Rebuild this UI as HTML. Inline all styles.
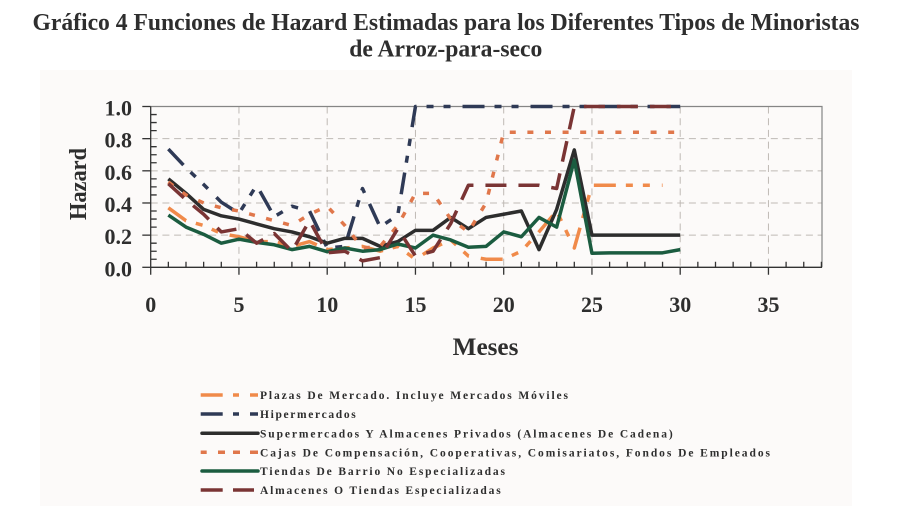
<!DOCTYPE html>
<html><head><meta charset="utf-8"><style>
html,body{margin:0;padding:0;background:#fff;}
svg{display:block;}
text{font-family:"Liberation Serif",serif;font-weight:bold;fill:#2e2e2e;}
</style></head><body>
<svg width="899" height="516" viewBox="0 0 899 516" xmlns="http://www.w3.org/2000/svg">
<rect x="0" y="0" width="899" height="516" fill="#ffffff"/>
<text x="32.5" y="30" font-size="24" textLength="827" lengthAdjust="spacingAndGlyphs">Gráfico 4 Funciones de Hazard Estimadas para los Diferentes Tipos de Minoristas</text>
<text x="349.3" y="56.7" font-size="24" textLength="193" lengthAdjust="spacingAndGlyphs">de Arroz-para-seco</text>
<rect x="40" y="70" width="812" height="436" fill="#fcfaf9"/>

<!-- grid -->
<g stroke="#bfbab5" stroke-width="1" stroke-dasharray="7 4.7" fill="none">
<line x1="150.7" y1="138.66" x2="822" y2="138.66"/>
<line x1="150.7" y1="170.82" x2="822" y2="170.82"/>
<line x1="150.7" y1="202.98" x2="822" y2="202.98"/>
<line x1="150.7" y1="235.14" x2="822" y2="235.14"/>
<line x1="238.95" y1="106.5" x2="238.95" y2="267.3"/>
<line x1="327.2" y1="106.5" x2="327.2" y2="267.3"/>
<line x1="415.45" y1="106.5" x2="415.45" y2="267.3"/>
<line x1="503.7" y1="106.5" x2="503.7" y2="267.3"/>
<line x1="591.95" y1="106.5" x2="591.95" y2="267.3"/>
<line x1="680.2" y1="106.5" x2="680.2" y2="267.3"/>
<line x1="768.45" y1="106.5" x2="768.45" y2="267.3"/>
</g>
<!-- border -->
<polyline points="150.7,106.5 822,106.5 822,267.3" fill="none" stroke="#858585" stroke-width="1.2"/>

<!-- axes -->
<g stroke="#333" stroke-width="1.3" fill="none">
<line x1="150.7" y1="106.5" x2="150.7" y2="267.3"/>
<line x1="150.7" y1="267.3" x2="822" y2="267.3"/>
<!-- y major ticks -->
<line x1="142.3" y1="106.5" x2="150.7" y2="106.5"/>
<line x1="142.3" y1="138.66" x2="150.7" y2="138.66"/>
<line x1="142.3" y1="170.82" x2="150.7" y2="170.82"/>
<line x1="142.3" y1="202.98" x2="150.7" y2="202.98"/>
<line x1="142.3" y1="235.14" x2="150.7" y2="235.14"/>
<line x1="142.3" y1="267.3" x2="150.7" y2="267.3"/>
<!-- y minor ticks -->
<path d="M150.7 114.54h6M150.7 122.58h6M150.7 130.62h6M150.7 146.7h6M150.7 154.74h6M150.7 162.78h6M150.7 178.86h6M150.7 186.9h6M150.7 194.94h6M150.7 211.02h6M150.7 219.06h6M150.7 227.1h6M150.7 243.18h6M150.7 251.22h6M150.7 259.26h6"/>
<!-- x major ticks -->
<path d="M150.7 267.3v7.5M238.95 267.3v7.5M327.2 267.3v7.5M415.45 267.3v7.5M503.7 267.3v7.5M591.95 267.3v7.5M680.2 267.3v7.5M768.45 267.3v7.5"/>
<!-- x minor ticks -->
<path d="M168.35 267.3v-5.5M186 267.3v-5.5M203.65 267.3v-5.5M221.3 267.3v-5.5M256.6 267.3v-5.5M274.25 267.3v-5.5M291.9 267.3v-5.5M309.55 267.3v-5.5M344.85 267.3v-5.5M362.5 267.3v-5.5M380.15 267.3v-5.5M397.8 267.3v-5.5M433.1 267.3v-5.5M450.75 267.3v-5.5M468.4 267.3v-5.5M486.05 267.3v-5.5M521.35 267.3v-5.5M539 267.3v-5.5M556.65 267.3v-5.5M574.3 267.3v-5.5M609.6 267.3v-5.5M627.25 267.3v-5.5M644.9 267.3v-5.5M662.55 267.3v-5.5M697.85 267.3v-5.5M715.5 267.3v-5.5M733.15 267.3v-5.5M750.8 267.3v-5.5M786.1 267.3v-5.5M803.75 267.3v-5.5M821.4 267.3v-5.5"/>
</g>

<!-- y labels -->
<g font-size="22" text-anchor="end">
<text x="132" y="115.5">1.0</text>
<text x="132" y="147.7">0.8</text>
<text x="132" y="179.8">0.6</text>
<text x="132" y="212">0.4</text>
<text x="132" y="244.1">0.2</text>
<text x="132" y="276.3">0.0</text>
</g>
<!-- x labels -->
<g font-size="22" text-anchor="middle">
<text x="150.7" y="312">0</text>
<text x="238.95" y="312">5</text>
<text x="327.2" y="312">10</text>
<text x="415.45" y="312">15</text>
<text x="503.7" y="312">20</text>
<text x="591.95" y="312">25</text>
<text x="680.2" y="312">30</text>
<text x="768.45" y="312">35</text>
</g>
<text x="452.7" y="355" font-size="25" textLength="65.7" lengthAdjust="spacingAndGlyphs">Meses</text>
<text transform="translate(86,184) rotate(-90)" x="0" y="0" font-size="24" text-anchor="middle" textLength="72" lengthAdjust="spacingAndGlyphs">Hazard</text>

<!-- series -->
<g fill="none" stroke-width="3.5" stroke-linejoin="round">
<!-- Plazas -->
<polyline stroke="#f08a4a" stroke-dasharray="22 10 7 10 7 12" points="168.35,207.8 186,220.67 203.65,225.49 221.3,233.53 238.95,236.75 256.6,241.57 274.25,241.57 291.9,246.4 309.55,241.57 327.2,249.6 344.85,248 362.5,246.4 380.15,251.2 397.8,246.4 415.45,259.26 433.1,248 450.75,239.96 468.4,256.04 486.05,259.26 503.7,259.26 521.35,251.2 539,231.92 556.65,211.02 574.3,248 591.95,185.29 662.55,185.29"/>
<!-- Hiper -->
<polyline stroke="#2f3a56" stroke-dasharray="22 10 7 10 7 12" points="168.35,149.11 186,167.8 203.65,184.49 221.3,202.18 238.95,213.43 256.6,185.29 274.25,216.65 291.9,206.2 309.55,211.02 327.2,248 344.85,246.4 362.5,188.51 380.15,227.1 397.8,215.04 415.45,106.5 680.2,106.5"/>
<!-- Super -->
<polyline stroke="#2d2d2d" points="168.35,178.86 186,193.33 203.65,209.41 221.3,215.84 238.95,219.06 256.6,223.88 274.25,228.71 291.9,231.92 309.55,236.75 327.2,243.18 344.85,238.36 362.5,238.36 380.15,246.4 397.8,241.57 415.45,230.32 433.1,230.32 450.75,217.45 468.4,228.71 486.05,217.45 503.7,214.24 521.35,211.02 539,249.61 556.65,209.41 574.3,149.92 591.95,235.14 680.2,235.14"/>
<!-- Cajas -->
<polyline stroke="#e0774b" stroke-dasharray="6 11.6" points="168.35,182.08 186,194.94 203.65,202.98 221.3,207.8 238.95,211.02 256.6,215.84 274.25,220.67 291.9,225.49 309.55,214.24 327.2,206.2 344.85,225.49 362.5,248 380.15,246.4 397.8,225.49 415.45,193.33 433.1,193.33 450.75,219.06 468.4,231.92 486.05,203 503.7,132.23 680.2,132.23"/>
<!-- Tiendas -->
<polyline stroke="#1b5c40" points="168.35,215.04 186,227.1 203.65,234.34 221.3,243.18 238.95,239.16 256.6,242.38 274.25,244.79 291.9,249.61 309.55,246.4 327.2,251.7 344.85,248 362.5,251.2 380.15,249.6 397.8,244 415.45,248 433.1,235.14 450.75,239.96 468.4,247.2 486.05,246.4 503.7,231.92 521.35,236.75 539,217.45 556.65,227.1 574.3,160.05 591.95,253.31 609.6,252.83 662.55,252.83 680.2,249.61"/>
<!-- Almacenes -->
<polyline stroke="#7a3434" stroke-dasharray="21 12" points="168.35,183.68 186,199.76 203.65,214.24 221.3,231.92 238.95,228.71 256.6,243.18 274.25,233.53 291.9,251.2 309.55,220.67 327.2,252.83 344.85,251.2 362.5,260.87 380.15,257.65 397.8,228.71 415.45,256.04 433.1,251.2 450.75,223.5 468.4,185.29 539,185.29 556.65,188.51 574.3,106.5 680.2,106.5"/>
</g>

<!-- legend -->
<g stroke-width="3.5" fill="none">
<path stroke="#f08a4a" d="M200.7 395h22M233 395h6M250 395h8"/>
<path stroke="#2f3a56" d="M200.7 414h22M233 414h6M250 414h8"/>
<path stroke="#2d2d2d" stroke-linecap="round" d="M202 433.3h56"/>
<path stroke="#e0774b" d="M200.7 452.3h6M218 452.3h7M233 452.3h7M250 452.3h8"/>
<path stroke="#1b5c40" stroke-linecap="round" d="M202 471h56"/>
<path stroke="#7a3434" d="M200.7 490h22M233 490h21"/>
</g>
<g font-size="11.5">
<text x="260" y="399" textLength="308" lengthAdjust="spacing">Plazas De Mercado. Incluye Mercados Móviles</text>
<text x="260" y="418" textLength="95.7" lengthAdjust="spacing">Hipermercados</text>
<text x="260" y="437.3" textLength="412.7" lengthAdjust="spacing">Supermercados Y Almacenes Privados (Almacenes De Cadena)</text>
<text x="260" y="456.3" textLength="510" lengthAdjust="spacing">Cajas De Compensación, Cooperativas, Comisariatos, Fondos De Empleados</text>
<text x="260" y="475" textLength="245" lengthAdjust="spacing">Tiendas De Barrio No Especializadas</text>
<text x="260" y="494" textLength="240.7" lengthAdjust="spacing">Almacenes O Tiendas Especializadas</text>
</g>
</svg>
</body></html>
